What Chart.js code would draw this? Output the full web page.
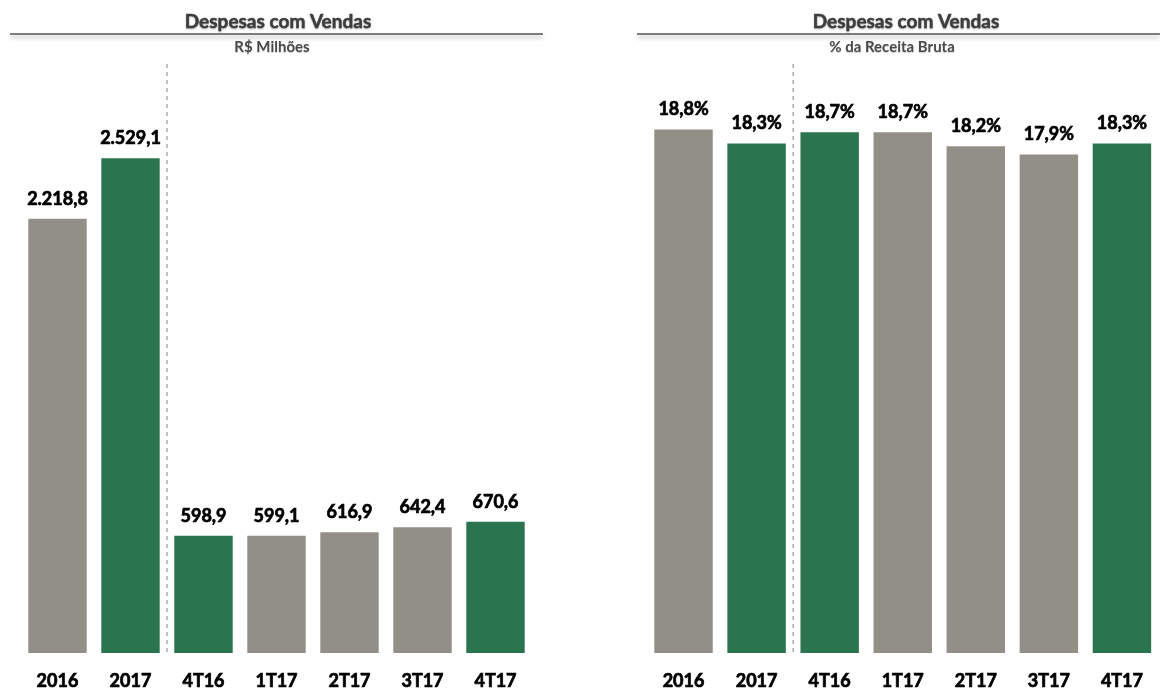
<!DOCTYPE html>
<html lang="pt-BR">
<head>
  <meta charset="utf-8">
  <title>Despesas com Vendas</title>
  <script src="https://cdn.jsdelivr.net/npm/chart.js@4.4.0/dist/chart.umd.min.js"></script>
  <style>
    body { margin: 0; background: #fff; }
    .box { position: absolute; top: 0; width: 580px; height: 690px; }
  </style>
</head>
<body>
  <div class="box" style="left:0"><canvas id="chartReais"></canvas></div>
  <div class="box" style="left:580px"><canvas id="chartPct"></canvas></div>

  <script>
    const categories = ['2016', '2017', '4T16', '1T17', '2T17', '3T17', '4T17'];
    const despesasMilhoes = [2218.8, 2529.1, 598.9, 599.1, 616.9, 642.4, 670.6];
    const despesasPct = [18.8, 18.3, 18.7, 18.7, 18.2, 17.9, 18.3];
    const GREY = '#918F86';
    const GREEN = '#2A7550';
    const barColors = [GREY, GREEN, GREEN, GREY, GREY, GREY, GREEN];

    const FONT = 'Lato, "Open Sans", sans-serif';

    // 2218.8 -> "2.218,8"
    function fmtBR(v) {
      const parts = v.toFixed(1).split('.');
      const intPart = parts[0].replace(/\B(?=(\d{3})+(?!\d))/g, '.');
      return intPart + ',' + parts[1];
    }

    // header: title, rule with soft shadow, subtitle
    const headerPlugin = {
      id: 'header',
      afterDraw(chart, args, opts) {
        const ctx = chart.ctx;
        ctx.save();
        ctx.textAlign = 'center';
        ctx.textBaseline = 'middle';
        ctx.shadowColor = 'rgba(0,0,0,0.25)';
        ctx.shadowBlur = 2;
        ctx.shadowOffsetY = 1;
        ctx.fillStyle = '#404040';
        ctx.strokeStyle = '#404040';
        ctx.lineWidth = 0.5;
        ctx.font = 'bold 19px ' + FONT;
        ctx.fillText(opts.title, opts.titleX, 22);
        ctx.strokeText(opts.title, opts.titleX, 22);

        ctx.shadowColor = 'rgba(0,0,0,0.35)';
        ctx.shadowBlur = 4;
        ctx.shadowOffsetY = 3;
        ctx.strokeStyle = '#555';
        ctx.lineWidth = 1.5;
        ctx.beginPath();
        ctx.moveTo(opts.ruleFrom, 34);
        ctx.lineTo(opts.ruleTo, 34);
        ctx.stroke();

        ctx.shadowColor = 'rgba(0,0,0,0.2)';
        ctx.shadowBlur = 1;
        ctx.shadowOffsetY = 1;
        ctx.fillStyle = '#4a4a4a';
        ctx.font = 'bold 15px ' + FONT;
        ctx.fillText(opts.subtitle, opts.subtitleX, 47);
        ctx.restore();
      }
    };

    // dashed divider between annual and quarterly bars + value labels
    const marksPlugin = {
      id: 'marks',
      afterDatasetsDraw(chart, args, opts) {
        const ctx = chart.ctx;
        const xs = chart.scales.x;
        const area = chart.chartArea;
        const xDiv = (xs.getPixelForValue(1) + xs.getPixelForValue(2)) / 2;
        ctx.save();
        ctx.strokeStyle = '#9a9a9a';
        ctx.lineWidth = 1.2;
        ctx.setLineDash([4, 4]);
        ctx.beginPath();
        ctx.moveTo(xDiv, 64);
        ctx.lineTo(xDiv, area.bottom);
        ctx.stroke();
        ctx.setLineDash([]);

        ctx.fillStyle = '#000';
        ctx.strokeStyle = '#000';
        ctx.lineWidth = 0.7;
        ctx.font = 'bold 18px ' + FONT;
        ctx.textAlign = 'center';
        ctx.textBaseline = 'middle';
        const meta = chart.getDatasetMeta(0);
        meta.data.forEach((bar, i) => {
          const txt = opts.format(chart.data.datasets[0].data[i]);
          ctx.fillText(txt, bar.x, bar.y - 20);
          ctx.strokeText(txt, bar.x, bar.y - 20);
        });
        ctx.restore();
      }
    };

    function makeChart(id, values, yMax, padLeft, padRight, header, format) {
      return new Chart(document.getElementById(id), {
        type: 'bar',
        data: {
          labels: categories,
          datasets: [{
            data: values,
            backgroundColor: barColors,
            barPercentage: 0.8,
            categoryPercentage: 1
          }]
        },
        options: {
          responsive: true,
          maintainAspectRatio: false,
          animation: false,
          layout: { padding: { left: padLeft, right: padRight, top: 66, bottom: 0 } },
          plugins: {
            legend: { display: false },
            tooltip: { enabled: false },
            header: header,
            marks: { format: format }
          },
          scales: {
            x: {
              grid: { display: false, drawTicks: false },
              border: { display: false },
              ticks: {
                color: '#000',
                font: { family: FONT, size: 18, weight: 'bold' },
                textStrokeColor: '#000',
                textStrokeWidth: 0.7,
                padding: 17
              },
              afterFit(scale) { scale.height = 37; }
            },
            y: { display: false, min: 0, max: yMax }
          }
        },
        plugins: [headerPlugin, marksPlugin]
      });
    }

    makeChart('chartReais', despesasMilhoes, 3000, 21, 48,
      { title: 'Despesas com Vendas', titleX: 278, subtitle: 'R$ Milhões', subtitleX: 272, ruleFrom: 10, ruleTo: 543 },
      v => fmtBR(v));

    makeChart('chartPct', despesasPct, 21.08, 67, 0,
      { title: 'Despesas com Vendas', titleX: 326, subtitle: '% da Receita Bruta', subtitleX: 312, ruleFrom: 57, ruleTo: 580 },
      v => fmtBR(v) + '%');
  </script>
</body>
</html>
